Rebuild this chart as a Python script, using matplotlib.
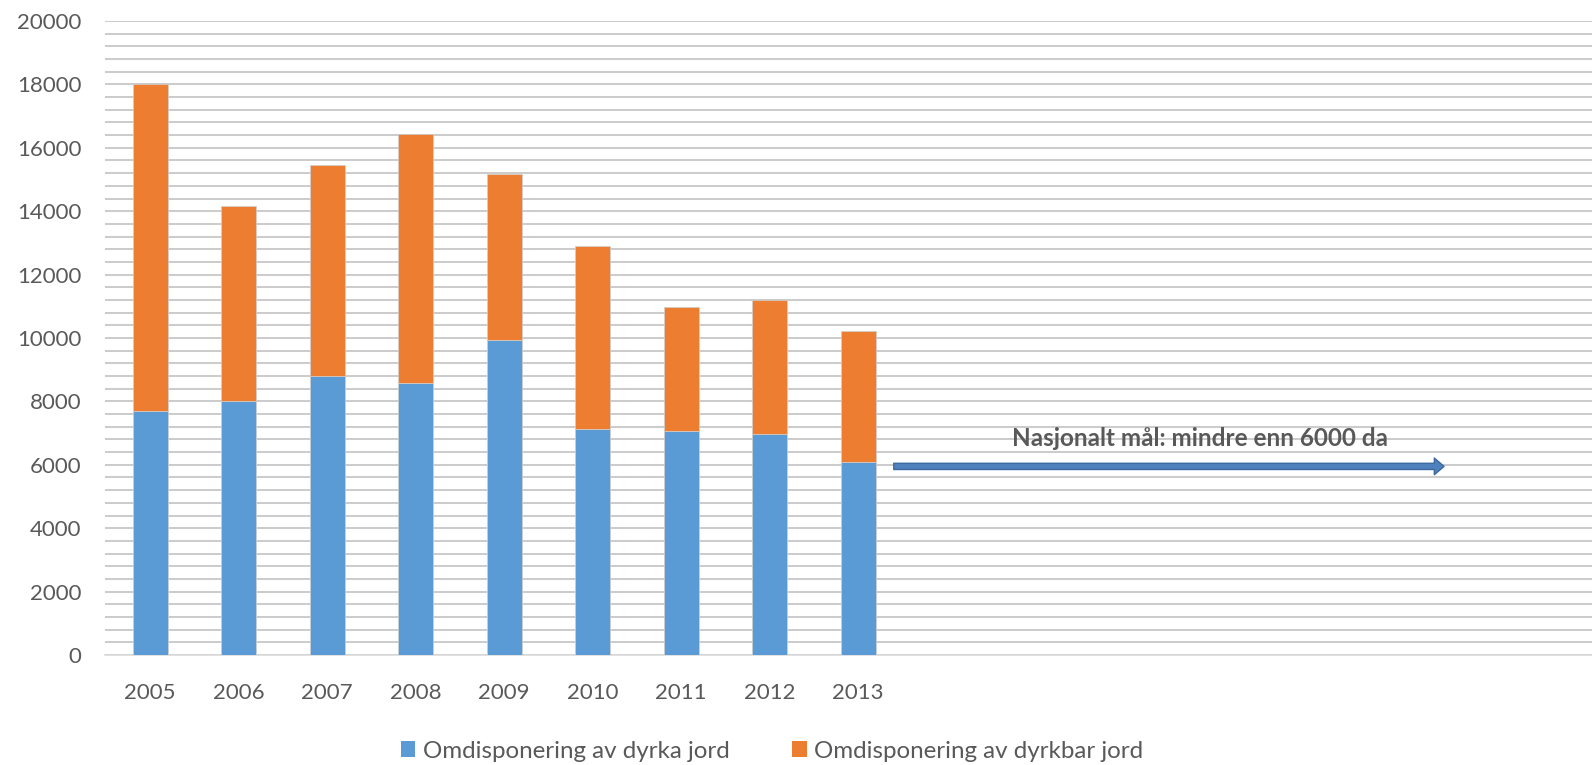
import matplotlib
matplotlib.use("Agg")
import matplotlib.pyplot as plt
from matplotlib.patches import FancyArrowPatch, Patch

years = ["2005", "2006", "2007", "2008", "2009", "2010", "2011", "2012", "2013"]
dyrka = [7700, 8010, 8810, 8580, 9950, 7140, 7070, 6980, 6100]
dyrkbar = [10300, 6140, 6640, 7870, 5220, 5760, 3910, 4220, 4110]
series_names = ["Omdisponering av dyrka jord", "Omdisponering av dyrkbar jord"]
goal_text = "Nasjonalt mål: mindre enn 6000 da"
goal_value = 5950

blue = "#5B9BD5"
orange = "#ED7D31"
txt = "#595959"
font = ["Lato", "DejaVu Sans"]
plt.rcParams["font.family"] = font

fig = plt.figure(figsize=(15.92, 7.65), dpi=100)
ax = fig.add_axes([105 / 1592, 110 / 765, 1487 / 1592, 634 / 765])

x = list(range(len(years)))
ax.bar(x, dyrka, width=0.395, color=blue, zorder=3, edgecolor="#D0D0D0", linewidth=0.5)
ax.bar(x, dyrkbar, width=0.395, bottom=dyrka, color=orange, zorder=3, edgecolor="#D0D0D0", linewidth=0.5)

ax.set_ylim(0, 20000)
ax.set_xlim(-0.51, 16.29)
ax.set_yticks(range(0, 20001, 2000))
ax.set_yticks(range(0, 20001, 400), minor=True)
ax.set_xticks(x)
ax.set_xticklabels(years)
ax.grid(True, which="both", axis="y", color="#BDBDBD", linewidth=1.1, zorder=0)
ax.tick_params(axis="both", which="both", length=0, labelsize=16, colors=txt)
ax.tick_params(axis="y", pad=17)
ax.tick_params(axis="x", pad=20)
for s in ["top", "right", "left"]:
    ax.spines[s].set_visible(False)
ax.spines["bottom"].set_color("#D9D9D9")
ax.spines["bottom"].set_linewidth(1.1)

arrow = FancyArrowPatch((8.37, goal_value), (14.65, goal_value),
                        arrowstyle="simple,head_width=12,head_length=7,tail_width=4.5",
                        mutation_scale=1, facecolor="#4F81BD", edgecolor="#3C6A9E",
                        linewidth=1.0, zorder=5)
ax.add_patch(arrow)
ax.text(11.86, 6820, goal_text, ha="center", va="center", fontsize=17.5,
        fontweight="bold", color=txt, zorder=6)

handles = [Patch(facecolor=blue), Patch(facecolor=orange)]
fig.legend(handles, series_names, loc="center", bbox_to_anchor=(772 / 1592, 1 - 751 / 765),
           ncol=2, frameon=False, fontsize=17.4, labelcolor=txt, handlelength=0.6,
           handleheight=0.6, handletextpad=0.3, columnspacing=2.6)

fig.savefig("out.png", dpi=100)
